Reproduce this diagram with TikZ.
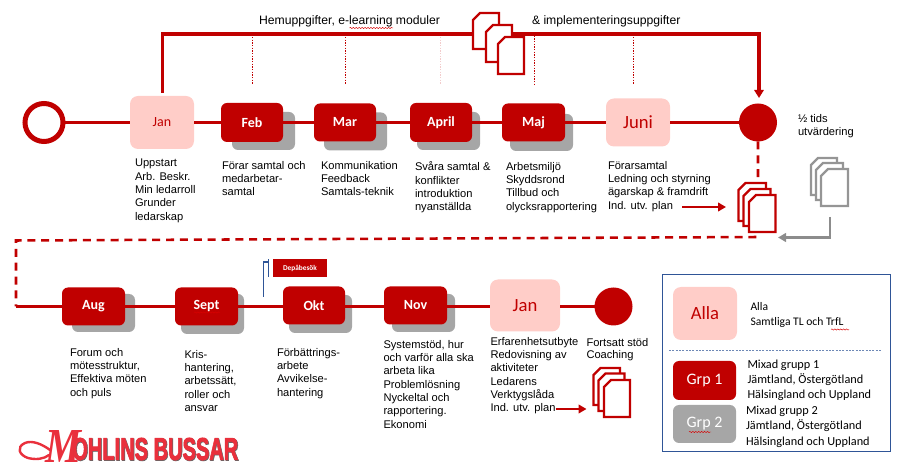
\documentclass[tikz,border=0pt]{standalone}
\usepackage{fontspec}
\usepackage{graphicx}
\setmainfont{Liberation Sans}
\newfontfamily\carl{Carlito}
\newfontfamily\logoserif{Liberation Serif}
\newfontfamily\logofont[BoldFeatures={FakeBold=2.5}]{Liberation Sans}
\usetikzlibrary{arrows.meta,decorations.pathmorphing}
\definecolor{mred}{HTML}{C00000}
\definecolor{mpink}{HTML}{FFCDC8}
\definecolor{mgray}{HTML}{A6A6A6}
\definecolor{mgraydark}{HTML}{8C8C8C}
\definecolor{mblue}{HTML}{2F5597}
\definecolor{mlogo}{HTML}{E9303C}
\tikzset{
  sz/.style 2 args={minimum width=#1*0.75pt,minimum height=#2*0.75pt,inner sep=0pt,outer sep=0pt},
  darkbox/.style={fill=mred,rounded corners=4.5pt,text=white,font=\carl\bfseries\fontsize{10.5}{12}\selectfont},
  pinkbox/.style={fill=mpink,rounded corners=6pt,text=mred,font=\carl\fontsize{10.5}{12}\selectfont},
  bigpink/.style={pinkbox,font=\carl\fontsize{14}{16}\selectfont},
  shadowbox/.style={fill=mgray,rounded corners=4.5pt},
  tl/.style={draw=mred,line width=1.9pt},
  homeline/.style={draw=mred,line width=2.3pt},
  dashline/.style={draw=mred,line width=1.9pt,dash pattern=on 6pt off 4.4pt},
  dotline/.style={draw=mred,line width=0.6pt,dash pattern=on 1pt off 1pt},
  desc/.style={anchor=north west,align=left,inner sep=0pt,outer sep=0pt,font=\fontsize{8.35}{10}\selectfont},
  toptext/.style={desc,font=\fontsize{9.15}{10}\selectfont},
  legendtext/.style={anchor=north west,align=left,inner sep=0pt,outer sep=0pt,font=\carl\fontsize{9}{11}\selectfont},
  docline/.style={line width=1.6pt,line join=miter,fill=white},
  squiggle/.style={draw=red!85!black,line width=0.35pt,decorate,decoration={snake,amplitude=0.45pt,segment length=2.2pt}},
}
\newcommand{\docshape}[5]{\draw[docline,draw=#5] (#1,{#2+7}) -- ({#1+7},#2) -- (#3,#2) -- (#3,#4) -- (#1,#4) -- cycle;}
\begin{document}
\begin{tikzpicture}[x=0.75pt,y=-0.75pt]
\useasboundingbox (0,0) rectangle (908,470);

% ---------- shadows
\node[shadowbox,sz={63}{38}] (febs) at (263.5,131) {};
\node[shadowbox,sz={63}{38}] (mars) at (355.5,131.5) {};
\node[shadowbox,sz={63}{38}] (aprs) at (448.5,131) {};
\node[shadowbox,sz={63}{37}] (majs) at (541.5,132.5) {};
\node[shadowbox,sz={63}{38}] (augs) at (103.5,313) {};
\node[shadowbox,sz={63}{40}] (seps) at (212.5,314) {};
\node[shadowbox,sz={63}{38}] (okts) at (320.5,314) {};
\node[shadowbox,sz={63}{38}] (novs) at (423.5,313) {};

% ---------- row 1 nodes
\node[circle,draw=mred,line width=3.75pt,fill=white,sz={38}{38}] (start) at (44,122.5) {};
\node[pinkbox,sz={64}{53}] (jan) at (162,122.5) {Jan};
\node[darkbox,sz={62}{39}] (feb) at (252,122.5) {Feb};
\node[darkbox,sz={62}{38}] (mar) at (345,122.5) {Mar};
\node[darkbox,sz={62}{39}] (apr) at (441,122.5) {April};
\node[darkbox,sz={63}{38}] (maj) at (533.5,122.5) {Maj};
\node[bigpink,sz={64}{48}] (jun) at (638,122.5) {Juni};
\node[circle,fill=mred,sz={38}{38}] (mid) at (758,122.5) {};

% ---------- row 2 nodes
\node[darkbox,sz={63}{38}] (aug) at (93.5,306.5) {Aug};
\node[darkbox,sz={63}{38}] (sep) at (206.5,306.5) {Sept};
\node[darkbox,sz={62}{38}] (okt) at (314,305.5) {Okt};
\node[darkbox,sz={63}{38}] (nov) at (415.5,305.5) {Nov};
\node[bigpink,sz={70}{52}] (jan2) at (525,305.5) {Jan};
\node[circle,fill=mred,sz={38}{38}] (end) at (613.5,306.5) {};

% ---------- timeline connectors
\draw[tl] (start) -- (jan);
\draw[tl] (jan) -- (feb);
\draw[tl] (feb) -- (mar);
\draw[tl] (mar) -- (apr);
\draw[tl] (apr) -- (maj);
\draw[tl] (maj) -- (jun);
\draw[tl] (jun) -- (mid);
\draw[tl] (aug) -- (sep);
\draw[tl] (sep.east) -- (okt.west |- sep.east);
\draw[tl] (okt.east |- sep.east) -- (nov.west |- sep.east);
\draw[tl] (nov.east |- sep.east) -- (jan2.west |- sep.east);
\draw[tl] (jan2.east |- sep.east) -- (end);

% ---------- home-work line
\coordinate (janup) at (162.5,93);
\coordinate (topL) at (162.5,34);
\coordinate (topR) at (759,34);
\coordinate (midtop) at (759,98);
\draw[homeline,-{Triangle[length=6pt,width=7pt]}] (janup) -- (topL) -- (topR) -- (midtop);
\foreach \dx/\dy/\op in {252.5/37/100,345.5/37/100,440/37/20,534.5/33/100,633/37/100}
  \draw[dotline,draw opacity=\op/100] (\dx,\dy) -- (\dx,85);
\docshape{473}{13}{499}{49}{mred}
\docshape{486}{25}{512}{62}{mred}
\docshape{498}{37}{524}{74}{mred}

% ---------- dashed transition
\coordinate (dashA) at (758,237);
\coordinate (dashB) at (16,240.5);
\coordinate (dashC) at (16,306.5);
\draw[dashline] (mid) -- (dashA) -- (dashB) -- (dashC);
\draw[tl] (dashC) -- (aug);

% ---------- document stacks
\docshape{738.5}{183}{766}{221}{mred}
\docshape{743.5}{189}{770.5}{226}{mred}
\docshape{749}{195}{775.5}{232}{mred}
\docshape{811}{158}{837}{195}{mgray!90!black}
\docshape{816}{163}{843}{200}{mgray!90!black}
\docshape{821}{169}{848}{206}{mgray!90!black}
\docshape{593.5}{368}{620}{405}{mred}
\docshape{598.5}{373.5}{624.5}{411}{mred}
\docshape{604}{380}{630}{417}{mred}

% ---------- small arrows
\coordinate (a1s) at (682,207);
\coordinate (a1e) at (726,207);
\draw[tl,line width=1.6pt,-{Triangle[length=6pt,width=6.5pt]}] (a1s) -- (a1e);
\coordinate (a2s) at (555.5,409);
\coordinate (a2e) at (586.5,409);
\draw[tl,line width=1.6pt,-{Triangle[length=6pt,width=6.5pt]}] (a2s) -- (a2e);
\coordinate (g1) at (830,217);
\coordinate (g2) at (830,237.5);
\coordinate (g3) at (778,237.5);
\draw[draw=mgraydark,line width=1.6pt,-{Triangle[length=6pt,width=6.5pt]}] (g1) -- (g2) -- (g3);

% ---------- top texts
\node[toptext] (hem) at (259,15.5) {Hemuppgifter, e-learning moduler};
\node[toptext] (impl) at (532,15.5) {\& implementeringsuppgifter};
\draw[squiggle] (349.5,28) -- (393,28);

% ---------- descriptions row 1
\node[desc] (t1) at (135,159.2) {Uppstart\\Arb. Beskr.\\Min ledarroll\\Grunder\\ledarskap};
\node[desc] (t2) at (222,161) {Förar samtal och\\medarbetar-\\samtal};
\node[desc] (t3) at (321,161) {Kommunikation\\Feedback\\Samtals-teknik};
\node[desc] (t4) at (415,162) {Svåra samtal \&\\konflikter\\introduktion\\nyanställda};
\node[desc] (t5) at (506,162) {Arbetsmiljö\\Skyddsrond\\Tillbud och\\olycksrapportering};
\node[desc] (t6) at (608,161) {Förarsamtal\\Ledning och styrning\\ägarskap \& framdrift\\Ind. utv. plan};
\node[desc] (half) at (798,114) {½ tids\\utvärdering};

% ---------- descriptions row 2
\node[desc] (t7) at (70,348) {Forum och\\mötesstruktur,\\Effektiva möten\\och puls};
\node[desc] (t8) at (184.5,350) {Kris-\\hantering,\\arbetssätt,\\roller och\\ansvar};
\node[desc] (t9) at (277,348) {Förbättrings-\\arbete\\Avvikelse-\\hantering};
\node[desc] (t10) at (383.5,340) {Systemstöd, hur\\och varför alla ska\\arbeta lika\\Problemlösning\\Nyckeltal och\\rapportering.\\Ekonomi};
\node[desc,font=\fontsize{8.35}{9.9}\selectfont] (t11) at (490.5,337.5) {Erfarenhetsutbyte\\Redovisning av\\aktiviteter\\Ledarens\\Verktygslåda\\Ind. utv. plan};
\node[desc,font=\fontsize{8.35}{9}\selectfont] (t12) at (586.5,338) {Fortsatt stöd\\Coaching};
\draw[squiggle] (194,312.5) -- (220,312.5);

% ---------- depot flag
\node[fill=mred,text=white,sz={54}{18},font=\carl\bfseries\fontsize{5.5}{6}\selectfont] (dep) at (300,268) {Depåbesök};
\coordinate (f1) at (263.5,297);
\coordinate (f2) at (263.5,262);
\coordinate (f3) at (268.5,262);
\coordinate (f4) at (268.5,277);
\coordinate (f5) at (268.5,259.5);
\draw[draw=mblue,line width=0.8pt] (f1) -- (f2) -- (f3);
\draw[draw=mblue,line width=0.8pt] (f5) -- (f4);

% ---------- legend
\node[draw=mblue,line width=1.1pt,sz={228.5}{177}] (legend) at (776.5,362.8) {};
\node[bigpink,sz={64}{53}] (alla) at (705,313.5) {Alla};
\node[darkbox,font=\carl\fontsize{12}{14}\selectfont,sz={63}{39}] (grp1) at (704.5,380.5) {Grp 1};
\node[shadowbox,text=white,font=\carl\fontsize{12}{14}\selectfont,sz={63}{38}] (grp2) at (704.5,424) {Grp 2};
\coordinate (sepL) at (669,350.7);
\coordinate (sepR) at (882,350.7);
\draw[draw=mblue!70!white,line width=0.6pt,dash pattern=on 1.5pt off 1pt] (sepL) -- (sepR);
\node[legendtext,font=\carl\fontsize{8.7}{10.9}\selectfont] (ltx1) at (750.5,302.5) {Alla\\Samtliga TL och TrfL};
\node[legendtext,font=\carl\fontsize{9.2}{11.5}\selectfont] (ltx2) at (747.5,359.5) {Mixad grupp 1\\Jämtland, Östergötland\\Hälsingland och Uppland};
\node[legendtext,font=\carl\fontsize{9.2}{11.5}\selectfont] (ltx3) at (746,406) {Mixad grupp 2\\Jämtland, Östergötland\\Hälsingland och Uppland};
\draw[squiggle] (831,329.5) -- (849,329.5);
\draw[squiggle] (689,387) -- (711,387);
\draw[squiggle] (689,432) -- (711,432);

% ---------- logo
\node[anchor=center,inner sep=0pt,text=mlogo] (logoM) at (64,446) {\resizebox{27pt}{24pt}{\logoserif\bfseries\itshape M}};
\draw[draw=mlogo,line width=1.8pt,line cap=round] (50,450) .. controls (42,444) and (32,440) .. (25,443) .. controls (16,447) and (19,455) .. (28,458) .. controls (36,460) and (44,459) .. (49,455);
\node[anchor=west,inner sep=0pt,text=black!60] (logoS) at (72.7,449.7) {\resizebox{124.5pt}{16.5pt}{\logofont\bfseries OHLINS BUSSAR}};
\node[anchor=west,inner sep=0pt,text=mlogo] (logo) at (72,449) {\resizebox{124.5pt}{16.5pt}{\logofont\bfseries OHLINS BUSSAR}};
\end{tikzpicture}
\end{document}
